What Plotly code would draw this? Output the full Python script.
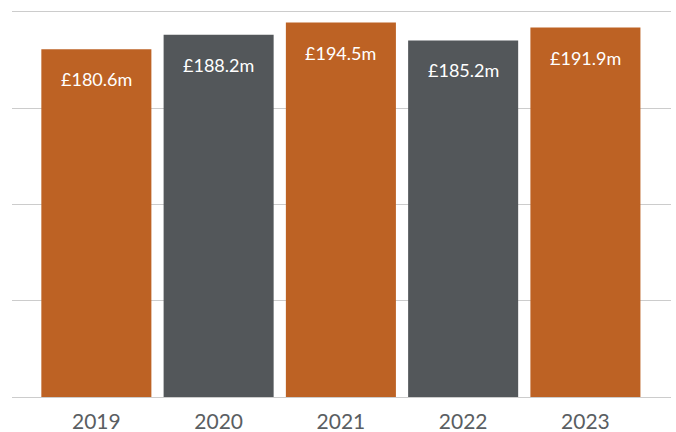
import plotly.graph_objects as go

years = ["2019", "2020", "2021", "2022", "2023"]
revenue_m = [180.6, 188.2, 194.5, 185.2, 191.9]
bar_colors = ["#BD6224", "#53575A", "#BD6224", "#53575A", "#BD6224"]

fig = go.Figure(
    go.Bar(
        x=years,
        y=revenue_m,
        marker=dict(color=bar_colors, line=dict(width=0)),
        width=0.9,
        hoverinfo="skip",
    )
)

# value labels sit inside each bar, a little below its top
for i, v in enumerate(revenue_m):
    fig.add_annotation(
        x=i, y=v, xref="x", yref="y",
        text=f"£{v:.1f}m", showarrow=False,
        yanchor="middle", yshift=-30,
        font=dict(family="Lato, sans-serif", size=18, color="#ffffff"),
    )

fig.update_layout(
    width=676, height=432,
    margin=dict(l=12, r=5, t=10, b=35, autoexpand=False),
    paper_bgcolor="white", plot_bgcolor="white",
    showlegend=False,
    xaxis=dict(
        type="category",
        range=[-0.69, 4.7],
        showgrid=False, showline=False, zeroline=False,
        ticks="", ticklabelstandoff=10,
        tickfont=dict(family="Lato, sans-serif", size=21, color="#5a5e62"),
        automargin=False,
    ),
    yaxis=dict(
        range=[0, 201], dtick=50,
        showgrid=True, gridcolor="#cccccc", gridwidth=1,
        zeroline=True, zerolinecolor="#cccccc", zerolinewidth=1,
        showticklabels=False, showline=False,
    ),
)

fig.write_html("out.html")
